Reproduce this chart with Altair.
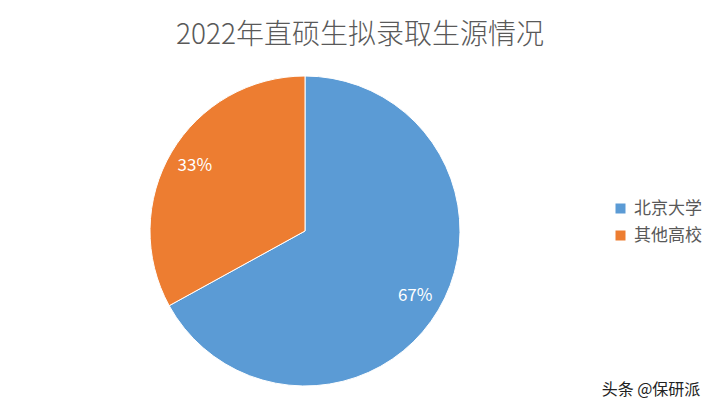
import pandas as pd
import altair as alt

FONT = "Noto Sans CJK SC"
GRAY = "#595959"

# values
categories = ["北京大学", "其他高校"]
shares = [67, 33]
share_labels = ["67%", "33%"]
colors = ["#5B9BD5", "#ED7D31"]

df = pd.DataFrame({
    "school": categories,
    "share": shares,
    "label": share_labels,
    "order": list(range(len(categories))),
})

CX, CY, R = 297, 173, 155

base = alt.Chart(df).encode(
    theta=alt.Theta("share:Q", stack=True),
    order=alt.Order("order:Q", sort="ascending"),
    x=alt.value(CX),
    y=alt.value(CY),
)

pie = base.mark_arc(radius=R, stroke="white", strokeWidth=1).encode(
    color=alt.Color(
        "school:N",
        scale=alt.Scale(domain=categories, range=colors),
        sort=categories,
        legend=alt.Legend(
            title=None,
            orient="none",
            legendX=604,
            legendY=142,
            symbolType="square",
            symbolSize=100,
            symbolStrokeWidth=0,
            labelFont=FONT,
            labelFontSize=17,
            labelColor=GRAY,
            labelOffset=5,
            rowPadding=9,
        ),
    ),
)

text = base.mark_text(radius=128, font=FONT, fontSize=17, color="white").encode(
    text="label:N",
)

watermark = alt.Chart(pd.DataFrame({"t": ["头条 @保研派"]})).mark_text(
    font=FONT, fontSize=16, color="#222222", align="center", baseline="middle"
).encode(
    text="t:N",
    x=alt.value(643),
    y=alt.value(332),
)

chart = (
    (pie + text + watermark)
    .properties(
        width=704,
        height=345,
        padding={"left": 0, "top": 50, "right": 0, "bottom": 0},
        autosize=alt.AutoSizeParams(type="none"),
        title=alt.Title(
            "2022年直硕生拟录取生源情况",
            font=FONT,
            fontSize=28,
            fontWeight=300,
            color=GRAY,
            anchor="middle",
            offset=8,
        ),
    )
    .configure_view(stroke=None)
)

chart.save("out.html", embed_options={"renderer": "svg", "actions": False})
